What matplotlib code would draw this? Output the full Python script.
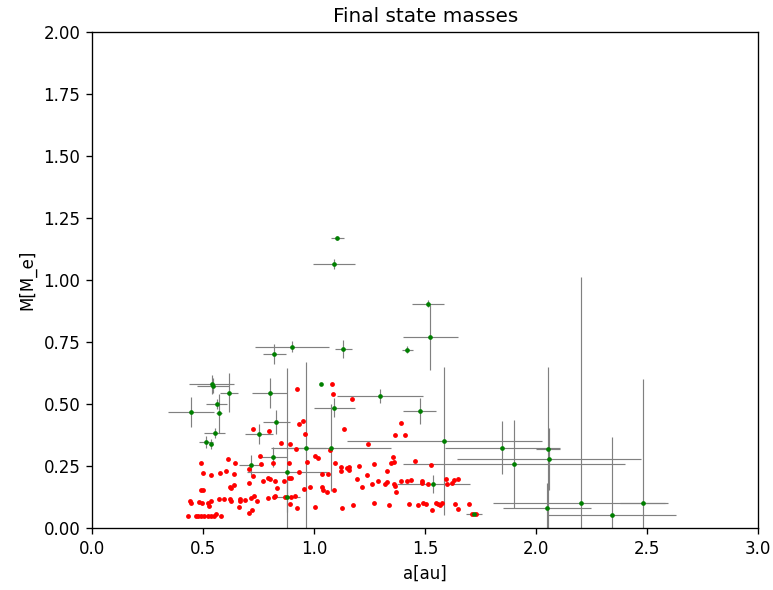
import matplotlib
matplotlib.use("Agg")
import matplotlib.pyplot as plt

# planetesimals that did not grow (red)
red_a = [0.725, 0.797, 0.851, 0.490, 0.611, 0.644, 0.757, 0.760, 0.814, 0.707,
         0.500, 0.537, 0.575, 0.605, 0.641, 0.725, 0.772, 0.794, 0.803, 0.866,
         0.622, 0.626, 0.641, 0.707, 0.833, 0.492, 0.500, 0.441, 0.446, 0.483,
         0.494, 0.521, 0.527, 0.536, 0.572, 0.595, 0.622, 0.626, 0.665, 0.668,
         0.689, 0.715, 0.730, 0.743, 0.791, 0.818, 0.824, 0.664, 0.709, 0.719,
         0.431, 0.468, 0.477, 0.490, 0.506, 0.521, 0.536, 0.551, 0.560, 0.580,
         1.080, 1.087, 0.925, 1.170, 0.950, 0.931, 0.959, 1.135, 0.892, 0.919,
         1.073, 1.243, 1.005, 1.019, 0.889, 0.970, 1.093, 1.123, 1.120, 1.147,
         1.158, 1.159, 1.203, 1.269, 1.330, 0.932, 1.037, 1.064, 0.898, 0.887,
         1.237, 1.194, 1.287, 1.215, 1.261, 1.320, 0.982, 0.956, 1.036, 1.042,
         1.060, 1.089, 0.868, 0.896, 0.916, 0.890, 0.923, 1.005, 1.125, 1.174,
         1.269, 1.335, 1.392, 1.364, 1.410, 1.355, 1.359, 1.348, 1.456, 1.527,
         1.327, 1.359, 1.364, 1.393, 1.420, 1.436, 1.368, 1.485, 1.488, 1.515,
         1.596, 1.599, 1.623, 1.629, 1.647, 1.428, 1.470, 1.490, 1.503, 1.530,
         1.548, 1.560, 1.569, 1.578, 1.636, 1.649, 1.698, 1.713, 1.731, 0.826]
red_m = [0.399, 0.392, 0.342, 0.262, 0.278, 0.263, 0.290, 0.257, 0.263, 0.239,
         0.223, 0.213, 0.223, 0.230, 0.218, 0.211, 0.188, 0.203, 0.196, 0.191,
         0.167, 0.160, 0.175, 0.183, 0.160, 0.154, 0.153, 0.109, 0.100, 0.105,
         0.102, 0.102, 0.088, 0.109, 0.118, 0.117, 0.118, 0.110, 0.118, 0.110,
         0.114, 0.120, 0.128, 0.110, 0.120, 0.126, 0.129, 0.085, 0.059, 0.073,
         0.050, 0.050, 0.050, 0.050, 0.050, 0.050, 0.050, 0.050, 0.056, 0.047,
         0.581, 0.540, 0.559, 0.519, 0.430, 0.421, 0.379, 0.398, 0.337, 0.320,
         0.313, 0.339, 0.290, 0.281, 0.263, 0.267, 0.262, 0.247, 0.231, 0.243,
         0.247, 0.234, 0.251, 0.258, 0.231, 0.225, 0.219, 0.218, 0.203, 0.200,
         0.214, 0.196, 0.191, 0.167, 0.177, 0.179, 0.165, 0.156, 0.164, 0.153,
         0.146, 0.153, 0.125, 0.124, 0.130, 0.097, 0.079, 0.086, 0.079, 0.094,
         0.100, 0.092, 0.425, 0.376, 0.374, 0.286, 0.267, 0.262, 0.269, 0.255,
         0.185, 0.177, 0.171, 0.188, 0.190, 0.192, 0.144, 0.191, 0.180, 0.177,
         0.196, 0.177, 0.183, 0.194, 0.196, 0.097, 0.093, 0.100, 0.097, 0.073,
         0.100, 0.096, 0.093, 0.100, 0.098, 0.075, 0.097, 0.058, 0.058, 0.188]

# final planets with spread (green + error bars)
g_a = [1.104, 1.090, 0.901, 0.821, 1.132, 1.515, 1.524, 1.420, 0.539, 0.545,
       0.618, 0.562, 0.446, 0.573, 0.553, 0.800, 0.515, 0.537, 0.830, 0.752,
       1.033, 1.297, 1.090, 1.476, 0.879, 0.877, 0.965, 1.074, 0.817, 0.715,
       1.586, 1.848, 2.054, 1.900, 1.537, 2.059, 2.048, 2.200, 2.340, 2.479,
       1.722]
g_m = [1.169, 1.065, 0.730, 0.703, 0.722, 0.905, 0.770, 0.718, 0.580, 0.573,
       0.546, 0.499, 0.468, 0.462, 0.384, 0.543, 0.348, 0.337, 0.427, 0.379,
       0.582, 0.532, 0.485, 0.472, 0.225, 0.126, 0.321, 0.324, 0.285, 0.254,
       0.351, 0.324, 0.320, 0.258, 0.176, 0.277, 0.081, 0.100, 0.051, 0.100,
       0.058]
g_da = [0.030, 0.095, 0.167, 0.052, 0.038, 0.072, 0.124, 0.024, 0.100, 0.070,
        0.040, 0.047, 0.104, 0.014, 0.047, 0.079, 0.032, 0.010, 0.060, 0.064,
        0.000, 0.195, 0.092, 0.074, 0.180, 0.060, 0.090, 0.270, 0.060, 0.054,
        0.440, 0.260, 0.053, 0.500, 0.164, 0.415, 0.198, 0.394, 0.290, 0.100,
        0.036]
g_dm = [0.008, 0.020, 0.022, 0.040, 0.036, 0.013, 0.131, 0.014, 0.038, 0.030,
        0.077, 0.020, 0.059, 0.079, 0.020, 0.060, 0.024, 0.020, 0.048, 0.040,
        0.000, 0.028, 0.038, 0.052, 0.420, 0.063, 0.350, 0.175, 0.040, 0.040,
        0.300, 0.107, 0.330, 0.177, 0.036, 0.125, 0.100, 0.913, 0.317, 0.500,
        0.000]

fig = plt.figure(figsize=(773 / 120, 590 / 120), dpi=120)
ax = fig.add_subplot(111)
fig.subplots_adjust(left=0.119, right=0.981, top=0.946, bottom=0.105)

ax.errorbar(g_a, g_m, xerr=g_da, yerr=g_dm, fmt='o', color='green', markersize=1.8,
            ecolor='gray', elinewidth=0.7, capsize=0)
ax.plot(red_a, red_m, 'o', color='red', markersize=1.9, linestyle='none')

ax.set_xlim(0, 3)
ax.set_ylim(0, 2)
ax.set_title("Final state masses")
ax.set_xlabel("a[au]")
ax.set_ylabel("M[M_e]")

plt.savefig("out.png", dpi=120)
